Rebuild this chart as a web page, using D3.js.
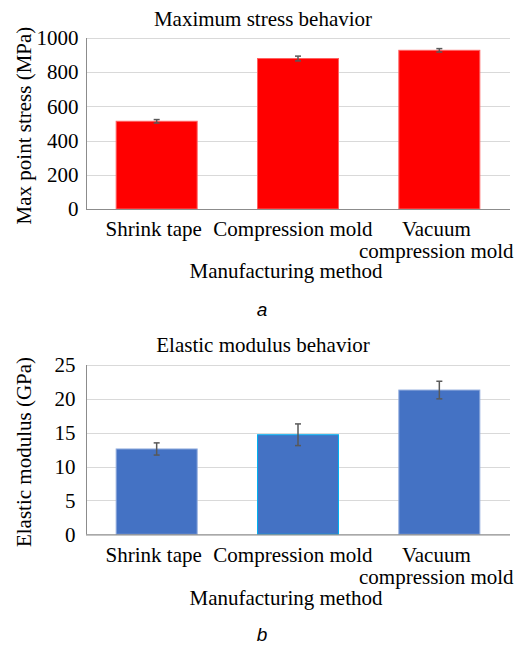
<!DOCTYPE html>
<html>
<head>
<meta charset="utf-8">
<script src="https://cdn.jsdelivr.net/npm/d3@7"></script>
<style>
  html, body { margin: 0; padding: 0; background: #fff; }
  svg { display: block; }
  svg text { font-family: "Liberation Serif", "Times New Roman", serif; fill: #000; }
  svg text.plabel { font-family: "Liberation Sans", Arial, sans-serif; font-style: italic; }
</style>
</head>
<body>
<svg id="chart" width="524" height="646"></svg>
<script>
// ---- Data ----
const categories = ["Shrink tape", "Compression mold", "Vacuum compression mold"];
const categoryLines = [["Shrink tape"], ["Compression mold"], ["Vacuum", "compression mold"]];

const stressValues = [513, 880, 928];
const stressErrors = [10, 14, 10];
const stressTicks = [0, 200, 400, 600, 800, 1000];

const modulusValues = [12.6, 14.7, 21.3];
const modulusErrors = [0.9, 1.6, 1.3];
const modulusTicks = [0, 5, 10, 15, 20, 25];

const titles = ["Maximum stress behavior", "Elastic modulus behavior"];
const yLabels = ["Max point stress (MPa)", "Elastic modulus (GPa)"];
const xLabel = "Manufacturing method";
const panelLabels = ["a", "b"];

// ---- Drawing ----
const svg = d3.select("#chart");
const FS = 21;

function panel(cfg) {
  const g = svg.append("g");
  const x = d3.scaleBand().domain(categories).range([86, 510])
    .paddingInner(0.427).paddingOuter(0.2135);
  const y = d3.scaleLinear().domain([0, cfg.max]).range([cfg.y0, cfg.y1]);

  // gridlines
  g.append("g").selectAll("line").data(cfg.ticks.filter(t => t > 0)).join("line")
    .attr("x1", 86).attr("x2", 510)
    .attr("y1", d => Math.round(y(d)) + 0.5).attr("y2", d => Math.round(y(d)) + 0.5)
    .attr("stroke", "#d9d9d9").attr("stroke-width", 1);

  // y axis
  const ya = g.append("g").attr("transform", "translate(86.5,0)")
    .call(d3.axisLeft(y).tickValues(cfg.ticks).tickSize(0).tickPadding(cfg.tickPad).tickFormat(d3.format("d")));
  ya.attr("font-family", null).attr("font-size", null);
  ya.select(".domain").attr("stroke", "#8c8c8c").attr("d", `M0,${y(0)}V${y(cfg.max)}`);
  ya.selectAll("text").attr("font-family", "Liberation Serif").style("font-size", FS + "px").attr("fill", "#000");

  // bars
  g.append("g").selectAll("rect").data(cfg.values).join("rect")
    .attr("x", (d, i) => x(categories[i]))
    .attr("y", d => y(d))
    .attr("width", x.bandwidth())
    .attr("height", d => y(0) - y(d))
    .attr("fill", cfg.color)
    .attr("stroke", (d, i) => cfg.strokes[i]).attr("stroke-width", 1);

  // x axis line
  g.append("line").attr("x1", 86).attr("x2", 510)
    .attr("y1", y(0) + 0.5).attr("y2", y(0) + 0.5)
    .attr("stroke", "#8c8c8c").attr("stroke-width", 1.2);

  // error bars
  const eg = g.append("g").attr("stroke", "#595959").attr("stroke-width", 1.5);
  cfg.values.forEach((v, i) => {
    const cx = x(categories[i]) + x.bandwidth() / 2;
    const top = y(v + cfg.errors[i]), bot = y(v - cfg.errors[i]);
    eg.append("line").attr("x1", cx).attr("x2", cx).attr("y1", top).attr("y2", bot);
    eg.append("line").attr("x1", cx - 3).attr("x2", cx + 3).attr("y1", top).attr("y2", top);
    eg.append("line").attr("x1", cx - 3).attr("x2", cx + 3).attr("y1", bot).attr("y2", bot);
  });

  // x tick labels
  const shift = [-3, -5, -3];
  categoryLines.forEach((lines, i) => {
    const cx = x(categories[i]) + x.bandwidth() / 2 + shift[i];
    lines.forEach((ln, j) => {
      g.append("text").attr("x", cx).attr("y", cfg.xl1 + j * 22)
        .attr("text-anchor", "middle").style("font-size", FS + "px").text(ln);
    });
  });

  // title
  g.append("text").attr("x", 263).attr("y", cfg.titleY).attr("text-anchor", "middle")
    .style("font-size", FS + "px").text(cfg.title);

  // x axis title
  g.append("text").attr("x", 286).attr("y", cfg.xtY).attr("text-anchor", "middle")
    .style("font-size", FS + "px").text(xLabel);

  // y axis title
  g.append("text").attr("transform", `translate(31,${cfg.ylC}) rotate(-90)`)
    .attr("text-anchor", "middle").style("font-size", FS + "px").text(cfg.yLabel);

  // panel label
  g.append("text").attr("class", "plabel").attr("x", 262).attr("y", cfg.plY).attr("text-anchor", "middle")
    .style("font-size", "19px").text(cfg.panel);
}

panel({
  values: stressValues, errors: stressErrors, ticks: stressTicks, max: 1000,
  y0: 209, y1: 38, color: "#ff0000", strokes: ["#ff6060", "#ff6060", "#ff6060"],
  tickPad: 8, xl1: 236, titleY: 26, xtY: 277.5, ylC: 125.5, plY: 316,
  title: titles[0], yLabel: yLabels[0], panel: panelLabels[0]
});

panel({
  values: modulusValues, errors: modulusErrors, ticks: modulusTicks, max: 25,
  y0: 534.3, y1: 365, color: "#4472c4", strokes: ["#8faadc", "#00b0f0", "#8faadc"],
  tickPad: 11, xl1: 561.7, titleY: 352, xtY: 605, ylC: 452, plY: 641,
  title: titles[1], yLabel: yLabels[1], panel: panelLabels[1]
});
</script>
</body>
</html>
